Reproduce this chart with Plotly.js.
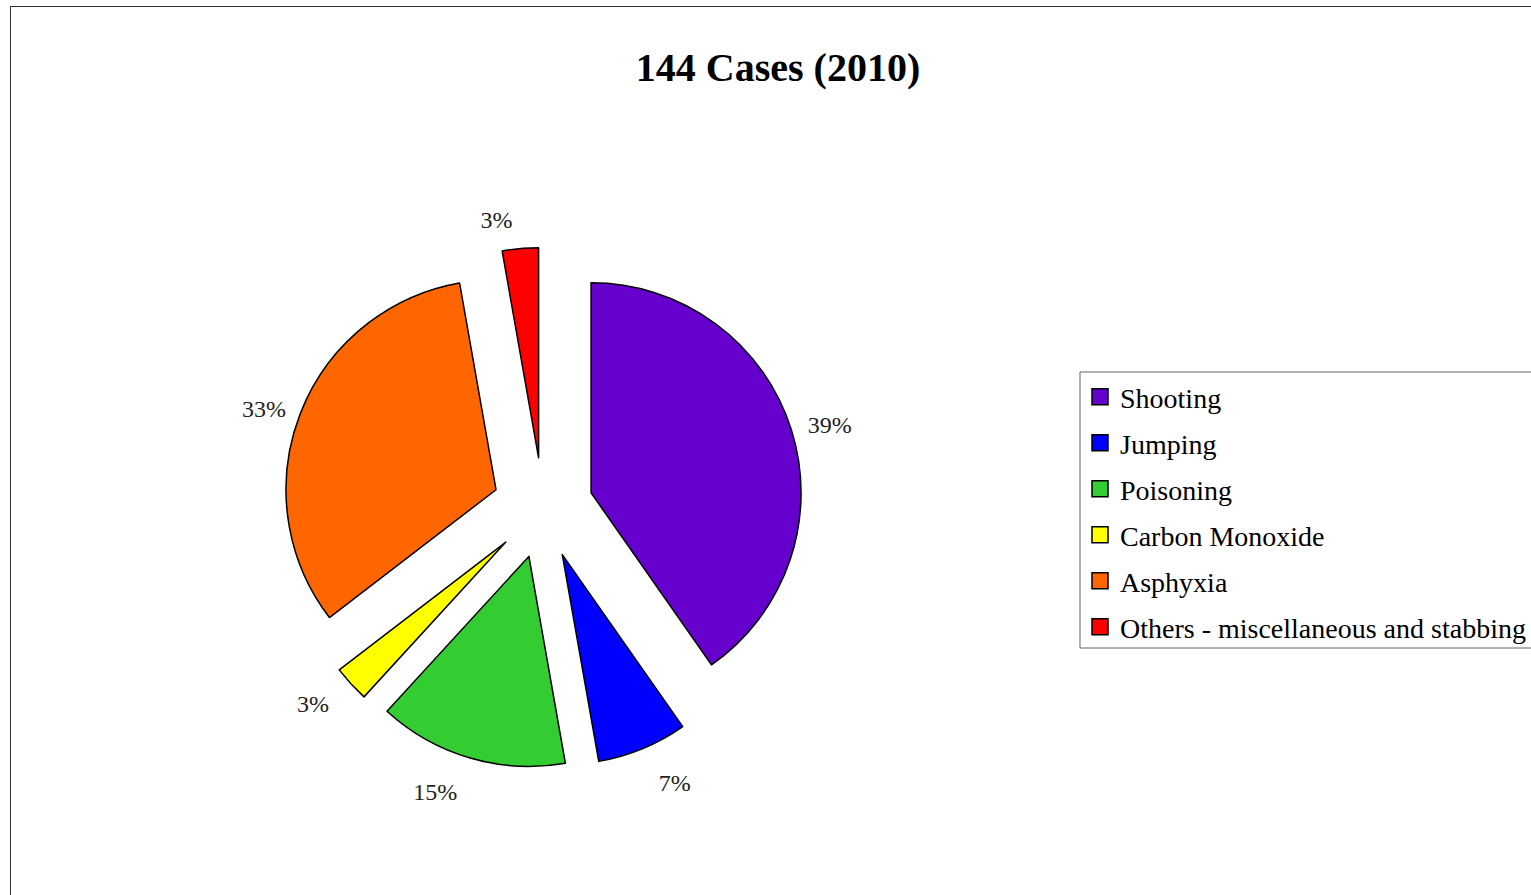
<!DOCTYPE html>
<html>
<head>
<meta charset="utf-8">
<script src="https://cdn.plot.ly/plotly-3.0.1.min.js"></script>
<style>
  html, body { margin: 0; padding: 0; background: #fff; overflow: hidden; }
  #frame { position: absolute; left: 10px; top: 6px; width: 2000px; height: 2000px; border: 1.5px solid #333; box-sizing: border-box; }
  #chart { position: absolute; left: 0; top: 0; width: 1531px; height: 895px; }
</style>
</head>
<body>
<div id="frame"></div>
<div id="chart"></div>
<script>
const categories = ["Shooting", "Jumping", "Poisoning", "Carbon Monoxide", "Asphyxia", "Others - miscellaneous and stabbing"];
const cases = [58, 10, 21, 4, 47, 4];
const pctLabels = ["39%", "7%", "15%", "3%", "33%", "3%"];
const colors = ["#6600CC", "#0000FF", "#33CC33", "#FFFF00", "#FF6600", "#FF0000"];
const labelPulls = [0.29, 0.36, 0.35, 0.34, 0.28, 0.315];
const chartTitle = "144 Cases (2010)";

const W = 1531, H = 895;
const serif = "Liberation Serif, Times New Roman, serif";
const cx = 543, cy = 508, R = 210, PULL = 0.24;

function dom(pull) {
  const half = R * (1 + pull);
  return { x: [(cx - half) / W, (cx + half) / W], y: [(H - cy - half) / H, (H - cy + half) / H] };
}

const pieTrace = {
  type: "pie",
  labels: categories,
  values: cases,
  sort: false,
  direction: "clockwise",
  rotation: 0,
  pull: cases.map(() => PULL),
  marker: { colors: colors, line: { color: "#000", width: 1.5 } },
  textinfo: "none",
  showlegend: false,
  hoverinfo: "label+value",
  domain: dom(PULL)
};

const labelTrace = {
  type: "pie",
  labels: categories,
  values: cases,
  text: pctLabels,
  sort: false,
  direction: "clockwise",
  rotation: 0,
  pull: labelPulls,
  marker: { colors: cases.map(() => "rgba(0,0,0,0)"), line: { width: 0 } },
  texttemplate: "%{text}",
  textposition: "outside",
  textfont: { family: serif, size: 24, color: "#222" },
  automargin: false,
  showlegend: false,
  hoverinfo: "skip",
  domain: dom(Math.max(...labelPulls))
};

const legendTraces = categories.map((name, i) => ({
  type: "scatter",
  mode: "markers",
  x: [null], y: [null],
  name: name,
  legendgroup: name,
  marker: { symbol: "square", size: 16, color: colors[i], line: { color: "#000", width: 1.5 } },
  hoverinfo: "skip"
}));

const layout = {
  width: W, height: H,
  margin: { l: 0, r: 0, t: 0, b: 0 },
  paper_bgcolor: "rgba(0,0,0,0)",
  plot_bgcolor: "rgba(0,0,0,0)",
  xaxis: { visible: false },
  yaxis: { visible: false },
  title: {
    text: "<b>" + chartTitle + "</b>",
    font: { family: serif, size: 40, color: "#000" },
    x: 778 / W, xanchor: "center",
    y: 1 - 67 / H, yanchor: "middle"
  },
  showlegend: true,
  legend: {
    x: 1080 / W, xanchor: "left",
    y: 1 - 372 / H, yanchor: "top",
    borderwidth: 0,
    bgcolor: "rgba(255,255,255,0)",
    font: { family: serif, size: 28, color: "#000" },
    traceorder: "grouped",
    tracegroupgap: 6.6
  },
  shapes: [{
    type: "rect", xref: "paper", yref: "paper",
    x0: 1080 / W, x1: 1.05, y0: 1 - 648 / H, y1: 1 - 372 / H,
    line: { color: "#666", width: 1 }, fillcolor: "rgba(0,0,0,0)"
  }]
};

Plotly.newPlot("chart", [pieTrace, labelTrace, ...legendTraces], layout, { displayModeBar: false, staticPlot: true });
</script>
</body>
</html>
